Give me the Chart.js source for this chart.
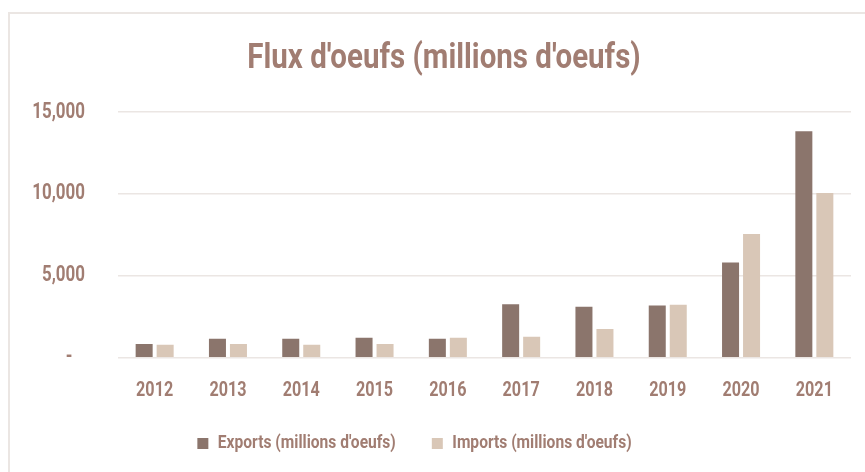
<!DOCTYPE html>
<html>
<head>
<meta charset="utf-8">
<script src="https://cdn.jsdelivr.net/npm/chart.js@4/dist/chart.umd.min.js"></script>
<style>
  html, body { margin: 0; padding: 0; background: #ffffff; }
  #wrap { position: relative; width: 865px; height: 472px; overflow: hidden; }
  #frame { position: absolute; left: 8px; top: 12px; width: 900px; height: 520px; border: 2px solid #ebe6e3; box-sizing: border-box; }
  #c { position: absolute; left: 0; top: 0; }
</style>
</head>
<body>
<div id="wrap">
  <div id="frame"></div>
  <canvas id="c" width="865" height="472"></canvas>
</div>
<script>
const years = ['2012','2013','2014','2015','2016','2017','2018','2019','2020','2021'];
const exportsValues = [840, 1170, 1170, 1230, 1170, 3270, 3110, 3190, 5810, 13830];
const importsValues = [800, 840, 800, 840, 1230, 1290, 1760, 3230, 7550, 10060];
const seriesNames = ["Exports (millions d'oeufs)", "Imports (millions d'oeufs)"];
const titleText = "Flux d'oeufs (millions d'oeufs)";
const yTicks = [0, 5000, 10000, 15000];

const FONT = "Roboto, 'DejaVu Sans', sans-serif";
const TXT = '#a17d72';

// The original uses a condensed face; emulate it by condensing text horizontally.
function condense(font) {
  const m = /(\d+(?:\.\d+)?)px/.exec(font || '');
  const size = m ? parseFloat(m[1]) : 12;
  if (size >= 30) return 0.843;
  if (size >= 19 && size < 20.5) return 0.82;
  return 0.77;
}
const canvas = document.getElementById('c');
const ctx = canvas.getContext('2d');
const origMeasure = ctx.measureText.bind(ctx);
const origFill = ctx.fillText.bind(ctx);
ctx.measureText = function (t) {
  const m = origMeasure(t);
  const sx = condense(ctx.font);
  return {
    width: m.width * sx,
    actualBoundingBoxLeft: m.actualBoundingBoxLeft * sx,
    actualBoundingBoxRight: m.actualBoundingBoxRight * sx,
    actualBoundingBoxAscent: m.actualBoundingBoxAscent,
    actualBoundingBoxDescent: m.actualBoundingBoxDescent,
    fontBoundingBoxAscent: m.fontBoundingBoxAscent,
    fontBoundingBoxDescent: m.fontBoundingBoxDescent
  };
};
ctx.fillText = function (t, x, y, maxW) {
  let w = origMeasure(t).width * condense(ctx.font);
  if (typeof maxW === 'number' && isFinite(maxW)) w = Math.min(w, maxW);
  origFill(t, x, y, w);
};

const shiftPlugin = {
  id: 'shiftBoxes',
  afterLayout(chart) {
    const tdx = 13.5, ldx = -16, ldy = -25;
    if (chart.titleBlock) { chart.titleBlock.left += tdx; chart.titleBlock.right += tdx; }
    if (chart.legend) {
      chart.legend.left += ldx; chart.legend.right += ldx;
      chart.legend.top += ldy; chart.legend.bottom += ldy;
    }
  }
};

new Chart(ctx, {
  type: 'bar',
  data: {
    labels: years,
    datasets: [
      { label: seriesNames[0], data: exportsValues, backgroundColor: '#8b756c', borderWidth: 0 },
      { label: seriesNames[1], data: importsValues, backgroundColor: '#d9c7b7', borderWidth: 0 }
    ]
  },
  options: {
    responsive: false,
    animation: false,
    devicePixelRatio: 1,
    categoryPercentage: 0.573,
    barPercentage: 0.81,
    layout: { padding: { left: 10, right: 14, top: 15, bottom: -16 } },
    scales: {
      x: {
        grid: { display: false, drawTicks: false },
        border: { display: false },
        ticks: { color: TXT, font: { family: FONT, size: 21, weight: 'bold' }, padding: 20 }
      },
      y: {
        min: 0, max: 15000,
        afterBuildTicks(axis) { axis.ticks = yTicks.map(v => ({ value: v })); },
        afterFit(axis) { axis.width = 108; },
        grid: { color: '#ebe6e3', lineWidth: 1.5, drawTicks: false },
        border: { display: false },
        ticks: {
          color: TXT, padding: 33,
          font: { family: FONT, size: 22, weight: 'bold' },
          callback: (v) => v === 0 ? '-   ' : Number(v).toLocaleString('en-US')
        }
      }
    },
    plugins: {
      title: {
        display: true, text: titleText, color: TXT,
        font: { family: FONT, size: 35, weight: 'bold' },
        padding: { top: 23, bottom: 32 }
      },
      legend: {
        position: 'bottom',
        labels: {
          color: TXT, boxWidth: 11, boxHeight: 11, padding: 36,
          font: { family: FONT, size: 19, weight: 'bold' }
        }
      },
      tooltip: { enabled: false }
    }
  },
  plugins: [shiftPlugin]
});
</script>
</body>
</html>
